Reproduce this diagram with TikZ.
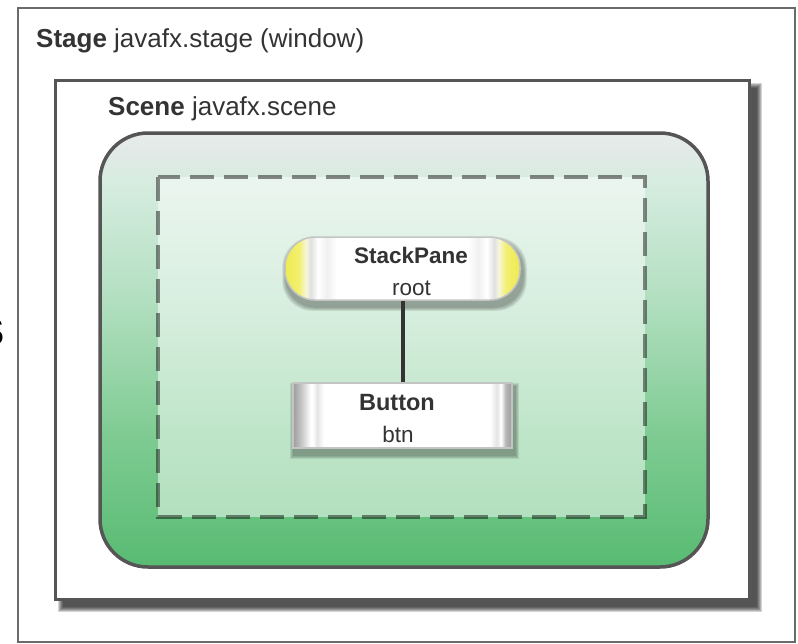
\documentclass[tikz,border=0pt]{standalone}
\usepackage{fontspec}
\setmainfont{Liberation Sans}
\pgfdeclarelayer{base}
\pgfdeclarelayer{shd}
\pgfsetlayers{base,shd,main}
\definecolor{stagegray}{HTML}{6A6A6A}
\definecolor{scenegray}{HTML}{555555}
\definecolor{txtdark}{HTML}{333333}
\definecolor{gTop}{HTML}{E8ECEC}
\definecolor{gA}{HTML}{E2EAE7}
\definecolor{gB}{HTML}{D5ECDF}
\definecolor{gC}{HTML}{B2DFC0}
\definecolor{gD}{HTML}{7ECB92}
\definecolor{gBot}{HTML}{58BB72}
\definecolor{yA}{HTML}{EEEA50}
\definecolor{yB}{HTML}{F2F070}
\definecolor{yC}{HTML}{F6F6DC}
\definecolor{bandA}{HTML}{E0E0E0}
\definecolor{bandB}{HTML}{F0F0F0}
\definecolor{bA}{HTML}{9C9C9C}
\definecolor{bB}{HTML}{C8C8C8}
\definecolor{bC}{HTML}{E4E4E4}
\definecolor{bD}{HTML}{B8B8B8}
\definecolor{nodeborder}{HTML}{C4C4C4}
\pgfdeclareverticalshading{greenshade}{100bp}{color(0bp)=(gBot); color(25bp)=(gBot); color(40bp)=(gD); color(55.8bp)=(gC); color(69bp)=(gB); color(73bp)=(gA); color(75bp)=(gTop); color(100bp)=(gTop)}
\pgfdeclarehorizontalshading{pillshade}{100bp}{color(0bp)=(yA); color(25bp)=(yA); color(28bp)=(yB); color(29.5bp)=(yC); color(30.5bp)=(bandA); color(32bp)=(white); color(34bp)=(bandB); color(36bp)=(white); color(50bp)=(white); color(64bp)=(white); color(66bp)=(bandB); color(68bp)=(white); color(69.5bp)=(bandA); color(70.5bp)=(yC); color(72bp)=(yB); color(75bp)=(yA); color(100bp)=(yA)}
\pgfdeclarehorizontalshading{btnshade}{100bp}{color(0bp)=(bA); color(25bp)=(bA); color(27bp)=(bB); color(29bp)=(white); color(29.5bp)=(white); color(30.5bp)=(bC); color(32bp)=(white); color(50bp)=(white); color(70bp)=(white); color(71.5bp)=(bC); color(72.5bp)=(white); color(73.5bp)=(bD); color(75bp)=(bA); color(100bp)=(bA)}
\begin{document}
\begin{tikzpicture}[x=1pt,y=-1pt,
  stagebox/.style={draw=stagegray,line width=2.2pt},
  scenebox/.style={draw=scenegray,fill=white,line width=3pt},
  greenbox/.style={draw=scenegray,line width=3.5pt,rounded corners=48pt,shade,shading=greenshade},
  dashbox/.style={draw=black,draw opacity=.45,line width=4.5pt,dash pattern=on 24pt off 10pt},
  titletext/.style={anchor=base west,inner sep=0pt,text=txtdark,font=\fontsize{26}{30}\selectfont},
  pillnode/.style={draw=nodeborder,line width=1.5pt,rounded corners=30pt,shade,shading=pillshade,minimum width=235pt,minimum height=63pt,inner sep=0pt},
  btnnode/.style={draw=nodeborder,line width=1.5pt,shade,shading=btnshade,minimum width=219pt,minimum height=65pt,inner sep=0pt},
  nodetext/.style={anchor=base,inner sep=0pt,text=txtdark,font=\fontsize{22.5}{26}\selectfont},
  connector/.style={draw=txtdark,line width=4pt},
  shadowfill/.style={fill=black,fill opacity=.09}]
\useasboundingbox (0,0) rectangle (798,643);
\begin{pgfonlayer}{base}
\node[anchor=base east,inner sep=0pt,font=\bfseries\fontsize{39}{40}\selectfont] (frag) at (4.5,345) {S};
\draw[stagebox] (18,8) rectangle (795,642);
\foreach \k in {0,...,5}
  \fill[black,fill opacity=.17] (58+\k,83+\k) rectangle (762-\k,612-\k);
\draw[scenebox] (55,80) rectangle (749,599);
\node[titletext] (stagelbl) at (36,47) {\textbf{Stage} javafx.stage (window)};
\node[titletext] (scenelbl) at (108,115) {\textbf{Scene} javafx.scene};
\path[greenbox] (100,133) rectangle (708,567);
\fill[white,fill opacity=.5] (158,177) rectangle (645,517);
\draw[dashbox] (158,177) rectangle (645,517);
\end{pgfonlayer}
\node[pillnode] (sp) at (402.5,268.5) {};
\node[btnnode] (btn) at (402.5,415.5) {};
\begin{pgfonlayer}{shd}
\foreach \k in {0,...,3}
  \fill[shadowfill,rounded corners=30pt] ([shift={(1-\k,4-\k)}]sp.north west) rectangle ([shift={(3+\k,7+\k)}]sp.south east);
\foreach \k in {0,...,3}
  \fill[shadowfill] ([shift={(1-\k,4-\k)}]btn.north west) rectangle ([shift={(3+\k,7+\k)}]btn.south east);
\end{pgfonlayer}
\draw[connector] (sp.south) -- (btn.north);
\node[nodetext,font=\bfseries\fontsize{22.5}{26}\selectfont] (sptitle) at (411,263) {StackPane};
\node[nodetext] (spname) at (411.5,295) {root};
\node[nodetext,font=\bfseries\fontsize{23.5}{26}\selectfont] (btntitle) at (397,410) {Button};
\node[nodetext] (btnname) at (398,442) {btn};
\end{tikzpicture}
\end{document}
